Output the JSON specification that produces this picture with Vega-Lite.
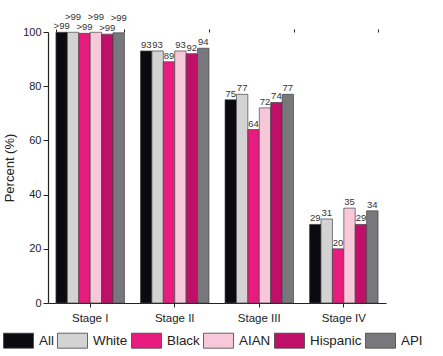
{
  "$schema": "https://vega.github.io/schema/vega-lite/v6.json",
  "width": 338,
  "height": 271,
  "autosize": {"type": "none"},
  "padding": {"left": 48, "top": 32, "right": 57, "bottom": 53},
  "background": "white",
  "config": {
    "font": "Liberation Sans",
    "view": {"stroke": null},
    "axis": {"domainColor": "#222", "tickColor": "#222", "labelColor": "#222", "titleColor": "#222", "grid": false}
  },
  "data": {
    "values": [
      {"stage": "Stage I", "group": "All", "value": 99.9, "label": ">99"},
      {"stage": "Stage I", "group": "White", "value": 99.9, "label": ">99"},
      {"stage": "Stage I", "group": "Black", "value": 99.5, "label": ">99"},
      {"stage": "Stage I", "group": "AIAN", "value": 99.9, "label": ">99"},
      {"stage": "Stage I", "group": "Hispanic", "value": 99.2, "label": ">99"},
      {"stage": "Stage I", "group": "API", "value": 99.7, "label": ">99"},
      {"stage": "Stage II", "group": "All", "value": 93, "label": "93"},
      {"stage": "Stage II", "group": "White", "value": 93, "label": "93"},
      {"stage": "Stage II", "group": "Black", "value": 89, "label": "89"},
      {"stage": "Stage II", "group": "AIAN", "value": 93, "label": "93"},
      {"stage": "Stage II", "group": "Hispanic", "value": 92, "label": "92"},
      {"stage": "Stage II", "group": "API", "value": 94, "label": "94"},
      {"stage": "Stage III", "group": "All", "value": 75, "label": "75"},
      {"stage": "Stage III", "group": "White", "value": 77, "label": "77"},
      {"stage": "Stage III", "group": "Black", "value": 64, "label": "64"},
      {"stage": "Stage III", "group": "AIAN", "value": 72, "label": "72"},
      {"stage": "Stage III", "group": "Hispanic", "value": 74, "label": "74"},
      {"stage": "Stage III", "group": "API", "value": 77, "label": "77"},
      {"stage": "Stage IV", "group": "All", "value": 29, "label": "29"},
      {"stage": "Stage IV", "group": "White", "value": 31, "label": "31"},
      {"stage": "Stage IV", "group": "Black", "value": 20, "label": "20"},
      {"stage": "Stage IV", "group": "AIAN", "value": 35, "label": "35"},
      {"stage": "Stage IV", "group": "Hispanic", "value": 29, "label": "29"},
      {"stage": "Stage IV", "group": "API", "value": 34, "label": "34"}
    ]
  },
  "encoding": {
    "xOffset": {
      "field": "group", "type": "nominal",
      "sort": ["All", "White", "Black", "AIAN", "Hispanic", "API"],
      "scale": {"paddingInner": 0, "paddingOuter": 0}
    },
    "y": {
      "field": "value", "type": "quantitative",
      "scale": {"domain": [0, 100], "nice": false},
      "axis": {"title": "Percent (%)", "titleFontSize": 13, "titleFontWeight": "normal", "titlePadding": 6, "labelFontSize": 11, "tickSize": 5, "values": [0, 20, 40, 60, 80, 100], "domainWidth": 1.2}
    }
  },
  "resolve": {"axis": {"x": "independent"}},
  "layer": [
    {
      "mark": {"type": "bar", "stroke": "#444", "strokeWidth": 0.7},
      "encoding": {
        "x": {
          "field": "stage", "type": "nominal", "sort": null,
          "scale": {"paddingInner": 0.19, "paddingOuter": 0.094},
          "axis": {"title": null, "labelAngle": 0, "labelFontSize": 11.5, "tickSize": 4, "labelPadding": 5, "domainWidth": 1.2}
        },
        "color": {
          "field": "group", "type": "nominal",
          "sort": ["All", "White", "Black", "AIAN", "Hispanic", "API"],
          "scale": {
            "domain": ["All", "White", "Black", "AIAN", "Hispanic", "API"],
            "range": ["#0b0a10", "#d3d3d3", "#e81c7e", "#f6c8da", "#bf0f69", "#78777c"]
          },
          "legend": {
            "title": null,
            "orient": "none",
            "direction": "horizontal",
            "legendX": -45,
            "legendY": 293,
            "padding": 0,
            "symbolType": "M-1,-0.5H1V0.5H-1Z",
            "symbolSize": 900,
            "symbolStrokeColor": "#444",
            "symbolStrokeWidth": 0.8,
            "labelFontSize": 13.4,
            "labelColor": "#222",
            "labelOffset": 5,
            "columnPadding": 1
          }
        }
      }
    },
    {
      "transform": [{"filter": "!(datum.stage == 'Stage I' && (datum.group == 'White' || datum.group == 'AIAN' || datum.group == 'API'))"}],
      "mark": {"type": "text", "baseline": "bottom", "dy": -1, "fontSize": 9.5, "color": "#333"},
      "encoding": {
        "x": {
          "field": "stage", "type": "nominal", "sort": null,
          "axis": {"title": null, "labels": false, "domain": false, "tickBand": "extent", "tickSize": 3, "offset": 0}
        },
        "text": {"field": "label"}
      }
    },
    {
      "transform": [{"filter": "datum.stage == 'Stage I' && (datum.group == 'White' || datum.group == 'AIAN' || datum.group == 'API')"}],
      "mark": {"type": "text", "baseline": "bottom", "dy": -10, "fontSize": 9.5, "color": "#333"},
      "encoding": {
        "x": {"field": "stage", "type": "nominal", "sort": null, "axis": null},
        "text": {"field": "label"}
      }
    }
  ]
}
